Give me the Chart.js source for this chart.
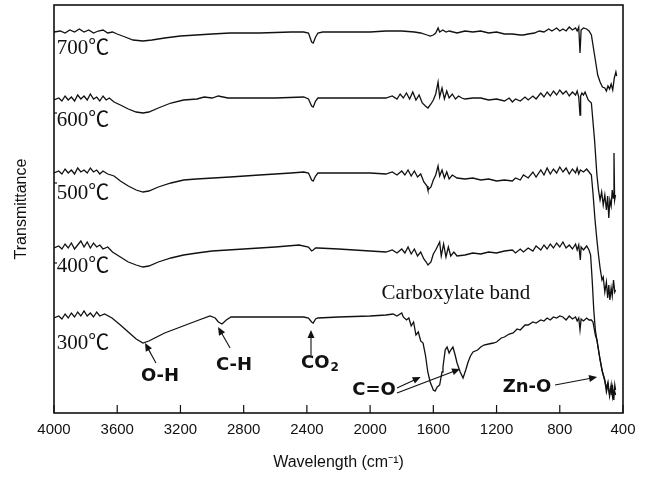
<!DOCTYPE html>
<html>
<head>
<meta charset="utf-8">
<script src="https://cdn.jsdelivr.net/npm/chart.js@4.4.0/dist/chart.umd.min.js"></script>
<style>
html,body{margin:0;padding:0;background:#fff;}
#wrap{width:651px;height:477px;position:relative;}
</style>
</head>
<body>
<div id="wrap"><canvas id="c" width="651" height="477"></canvas></div>
<script>
// ---- tick labels ----
const xTickValues = [4000,3600,3200,2800,2400,2000,1600,1200,800,400];
const seriesNames = ['700℃','600℃','500℃','400℃','300℃'];

// ---- spectra (wavenumber, transmittance in arbitrary stacked units) ----
const w700 = [4000,3960,3930,3900,3870,3840,3810,3780,3750,3720,3690,3660,3630,3600,3550,3500,3437,3380,3300,3200,3100,3000,2886,2700,2500,2420,2390,2370,2360,2345,2330,2300,2200,2100,2000,1900,1800,1720,1680,1640,1620,1600,1585,1570,1560,1540,1520,1500,1450,1400,1350,1300,1250,1200,1150,1100,1050,1030,1000,960,930,900,870,850,820,800,780,760,740,720,700,690,680,672,665,650,630,615,600,585,570,560,545,530,515,505,495,485,475,465,455,445,440];
const t700 = [381,382,380,383,381,384,381,383,380,382,383,380,381,379,376,373,372,373,375,377,378,379,380,380,381,381,380,371,370,376,380,381,381,381,381,382,382,381,380,378,377,378,380,385,381,383,381,382,380,382,381,382,380,381,379,379,378,378,379,380,382,381,384,382,385,382,384,382,386,383,385,382,386,360,383,385,384,382,378,363,348,338,331,326,325,322,327,324,329,323,335,341,337];

const w600 = [4000,3970,3950,3930,3910,3890,3870,3850,3830,3810,3790,3770,3750,3730,3710,3690,3670,3650,3620,3580,3530,3480,3437,3400,3340,3260,3180,3095,3050,3000,2960,2900,2800,2600,2420,2390,2370,2360,2345,2330,2200,2000,1900,1860,1830,1810,1790,1770,1750,1730,1710,1690,1670,1650,1634,1615,1600,1585,1570,1560,1545,1530,1515,1500,1480,1460,1440,1420,1400,1350,1300,1250,1200,1150,1120,1100,1080,1050,1020,1000,970,950,920,900,880,860,840,820,800,780,760,740,720,700,690,680,672,668,660,650,640,630,620,600,580,565,555,545,535,525,515,505,497,490,483,475,468,462,457,453,447];
const t600 = [313,315,312,317,313,316,312,318,314,317,313,319,314,316,312,317,313,315,311,308,304,301,300,301,305,310,313,314,316,315,317,315,315,315,316,314,307,306,312,315,315,315,315,317,314,319,315,320,314,321,313,318,310,307,305,309,313,319,331,316,325,314,322,315,319,314,317,315,314,315,315,313,314,312,315,311,314,312,316,313,317,314,320,316,321,317,322,318,323,319,322,317,321,318,322,316,298,317,320,318,321,317,313,310,273,238,223,213,221,208,218,203,217,195,213,207,223,215,260,213,218];

const w500 = [4000,3970,3950,3930,3910,3890,3870,3850,3830,3810,3790,3770,3750,3730,3710,3690,3660,3620,3580,3530,3480,3437,3400,3340,3260,3180,3100,2886,2700,2500,2420,2390,2370,2360,2345,2330,2200,2000,1900,1860,1830,1800,1780,1760,1740,1720,1700,1680,1660,1640,1634,1615,1600,1585,1570,1560,1545,1530,1515,1500,1480,1450,1400,1350,1300,1250,1200,1150,1100,1080,1050,1030,1000,970,950,920,900,880,860,840,820,800,780,760,740,720,700,690,680,670,650,630,615,600,590,577,565,555,545,533,525,515,505,497,490,483,475,468,460,452,447];
const t500 = [240,242,239,244,240,243,239,245,241,243,240,245,241,243,239,242,239,237,232,227,223,221,222,226,230,233,234,236,238,240,241,240,233,232,237,240,240,240,239,241,238,242,238,243,237,242,236,239,231,227,223,226,233,238,247,237,243,235,241,234,238,235,234,235,233,234,232,233,232,235,233,238,235,241,236,243,238,245,239,244,240,246,241,245,239,244,240,245,239,243,241,244,241,238,220,193,173,158,145,133,136,121,131,115,128,113,125,117,133,121,123];

const w400 = [4000,3970,3950,3930,3910,3890,3870,3850,3830,3810,3790,3770,3750,3730,3710,3690,3660,3630,3580,3530,3480,3437,3400,3340,3260,3180,3095,3000,2800,2600,2450,2390,2370,2360,2345,2330,2200,2100,2000,1900,1860,1830,1800,1780,1760,1740,1720,1700,1680,1660,1645,1634,1615,1600,1585,1560,1550,1535,1520,1505,1490,1470,1450,1400,1350,1300,1250,1200,1150,1100,1080,1050,1030,1000,970,950,920,900,880,860,840,820,800,780,760,740,720,700,690,680,670,665,650,630,615,605,595,585,575,560,545,530,515,505,495,485,475,465,455,447];
const t400 = [165,167,164,169,165,170,164,168,172,166,171,165,170,166,168,164,166,161,156,151,148,146,147,151,155,158,160,162,164,166,168,166,162,163,165,165,164,163,162,161,163,160,164,160,166,159,164,157,161,154,151,148,151,159,163,171,157,169,156,166,157,161,157,158,160,159,161,160,162,163,160,164,161,165,162,167,163,168,164,169,165,170,166,171,165,168,164,169,163,168,153,166,163,167,163,158,133,103,83,68,53,41,33,21,28,18,25,15,23,18];

const w300 = [4000,3970,3950,3930,3910,3890,3870,3850,3830,3810,3790,3770,3750,3730,3710,3680,3633,3580,3530,3480,3437,3400,3350,3300,3200,3100,3013,2980,2960,2937,2910,2880,2800,2600,2420,2390,2370,2360,2345,2330,2200,2000,1900,1855,1830,1800,1790,1770,1755,1740,1725,1710,1695,1680,1665,1650,1635,1620,1600,1589,1575,1560,1545,1539,1525,1513,1500,1490,1476,1462,1450,1430,1412,1395,1380,1365,1349,1320,1300,1280,1250,1220,1200,1170,1150,1120,1095,1070,1050,1020,1000,970,950,920,900,880,860,840,820,800,780,760,740,720,700,690,680,672,665,650,630,615,600,590,575,565,550,533,520,505,495,485,475,470,465,458,452,447];
const t300 = [95,97,94,99,95,100,96,101,97,102,97,100,96,101,97,99,95,88,81,74,70,72,76,80,86,92,97,95,91,89,93,96,96,96,96,95,91,90,94,95,96,97,98,99,97,100,96,93,95,87,91,78,81,72,70,58,41,31,23,22,26,28,41,46,63,66,60,63,66,58,50,41,35,43,51,57,61,63,66,68,69,70,71,75,76,79,80,84,83,88,88,91,90,93,92,95,93,96,95,97,96,93,97,94,96,92,95,83,94,92,95,93,93,91,78,73,58,43,35,25,31,17,28,18,25,13,28,23];

const spectraW = [w700,w600,w500,w400,w300];
const spectraT = [t700,t600,t500,t400,t300];

function toPoints(w, t) {
  const n = Math.min(w.length, t.length);
  const out = [];
  for (let i = 0; i < n; i++) out.push({x: w[i], y: t[i]});
  return out;
}

const datasets = seriesNames.map((name, i) => ({
  label: name,
  data: toPoints(spectraW[i], spectraT[i]),
  borderColor: '#111',
  borderWidth: 1.3,
  pointRadius: 0,
  tension: 0,
  fill: false
}));

// annotation layout (in data coordinates: wavenumber, stacked transmittance)
const annotationCfg = {
  temps: [
    {text: '700℃', w: 3982, v: 365},
    {text: '600℃', w: 3982, v: 293},
    {text: '500℃', w: 3982, v: 220},
    {text: '400℃', w: 3982, v: 147},
    {text: '300℃', w: 3982, v: 70}
  ],
  serifLabels: [
    {text: 'Carboxylate band', w: 1457, v: 120}
  ],
  boldLabels: [
    {text: 'O-H', w: 3329, v: 37, arrows: [[3355, 50, 3424, 70]]},
    {text: 'C-H', w: 2861, v: 48, arrows: [[2886, 65, 2962, 86]]},
    {text: 'C=O', w: 1975, v: 23, arrows: [[1830, 25, 1680, 36], [1830, 20, 1431, 44]]},
    {text: 'Zn-O', w: 1007, v: 26, arrows: [[830, 28, 564, 36]]}
  ],
  co2: {w: 2437, v: 50, arrow: [2374, 58, 2374, 83]}
};

function drawArrow(ctx, x1, y1, x2, y2) {
  const ang = Math.atan2(y2 - y1, x2 - x1);
  const hl = 8, hw = 3.5;
  ctx.beginPath();
  ctx.moveTo(x1, y1);
  ctx.lineTo(x2 - Math.cos(ang) * hl * 0.8, y2 - Math.sin(ang) * hl * 0.8);
  ctx.stroke();
  ctx.beginPath();
  ctx.moveTo(x2, y2);
  ctx.lineTo(x2 - Math.cos(ang) * hl - Math.sin(ang) * hw, y2 - Math.sin(ang) * hl + Math.cos(ang) * hw);
  ctx.lineTo(x2 - Math.cos(ang) * hl + Math.sin(ang) * hw, y2 - Math.sin(ang) * hl - Math.cos(ang) * hw);
  ctx.closePath();
  ctx.fill();
}

const ftirPlugin = {
  id: 'ftirNotes',
  afterDraw(chart) {
    const ctx = chart.ctx;
    const xs = chart.scales.x, ys = chart.scales.y;
    const ca = chart.chartArea;
    const X = w => xs.getPixelForValue(w);
    const Y = v => ys.getPixelForValue(v);
    ctx.save();
    // frame
    ctx.strokeStyle = '#111';
    ctx.lineWidth = 1.6;
    ctx.strokeRect(ca.left, ca.top, ca.right - ca.left, ca.bottom - ca.top);
    // inward ticks on bottom axis
    ctx.lineWidth = 1.2;
    xs.ticks.forEach(t => {
      const px = X(t.value);
      ctx.beginPath();
      ctx.moveTo(px, ca.bottom);
      ctx.lineTo(px, ca.bottom - 8);
      ctx.stroke();
    });
    // small inward ticks on left axis
    [300, 230, 150].forEach(v => {
      const py = Y(v);
      ctx.beginPath();
      ctx.moveTo(ca.left, py);
      ctx.lineTo(ca.left + 3, py);
      ctx.stroke();
    });

    ctx.fillStyle = '#111';
    ctx.strokeStyle = '#111';
    // temperature labels
    ctx.font = "21px 'Liberation Serif', 'Noto Sans CJK SC', serif";
    ctx.textAlign = 'left';
    ctx.textBaseline = 'middle';
    annotationCfg.temps.forEach(t => ctx.fillText(t.text, X(t.w), Y(t.v)));
    // serif labels
    ctx.textAlign = 'center';
    annotationCfg.serifLabels.forEach(t => ctx.fillText(t.text, X(t.w), Y(t.v)));
    // bold labels + arrows
    ctx.font = "bold 18px 'DejaVu Sans', sans-serif";
    ctx.lineWidth = 1.1;
    annotationCfg.boldLabels.forEach(t => {
      ctx.fillText(t.text, X(t.w), Y(t.v));
      t.arrows.forEach(a => drawArrow(ctx, X(a[0]), Y(a[1]), X(a[2]), Y(a[3])));
    });
    // CO2 with subscript
    const c = annotationCfg.co2;
    ctx.textAlign = 'left';
    ctx.font = "bold 18px 'DejaVu Sans', sans-serif";
    const cx = X(c.w), cy = Y(c.v);
    ctx.fillText('CO', cx, cy);
    const wCO = ctx.measureText('CO').width;
    ctx.font = "bold 12px 'DejaVu Sans', sans-serif";
    ctx.fillText('2', cx + wCO + 1, cy + 5);
    drawArrow(ctx, X(c.arrow[0]), Y(c.arrow[1]), X(c.arrow[2]), Y(c.arrow[3]));
    ctx.restore();
  }
};

new Chart(document.getElementById('c'), {
  type: 'line',
  data: {datasets},
  options: {
    responsive: false,
    animation: false,
    devicePixelRatio: 1,
    layout: {padding: {top: 5, right: 28, left: 0, bottom: 0}},
    plugins: {legend: {display: false}, tooltip: {enabled: false}},
    scales: {
      x: {
        type: 'linear',
        reverse: true,
        min: 400,
        max: 4000,
        afterBuildTicks: s => { s.ticks = xTickValues.map(v => ({value: v})); },
        afterFit: s => { s.height = 64; },
        grid: {display: false, drawTicks: false},
        border: {display: false},
        ticks: {
          color: '#111',
          padding: 8,
          maxRotation: 0,
          autoSkip: false,
          callback: v => String(v),
          font: {family: "'Liberation Sans', Arial, sans-serif", size: 15}
        },
        title: {
          display: true,
          text: 'Wavelength (cm⁻¹)',
          color: '#111',
          padding: {top: 0, bottom: 5},
          font: {family: "'Liberation Sans', Arial, sans-serif", size: 16}
        }
      },
      y: {
        type: 'linear',
        min: 0,
        max: 408,
        afterFit: s => { s.width = 54; },
        grid: {display: false, drawTicks: false},
        border: {display: false},
        ticks: {display: false},
        title: {
          display: true,
          text: 'Transmittance',
          color: '#111',
          padding: {top: 12, bottom: 0},
          font: {family: "'Liberation Sans', Arial, sans-serif", size: 16}
        }
      }
    }
  },
  plugins: [ftirPlugin]
});
</script>
</body>
</html>
